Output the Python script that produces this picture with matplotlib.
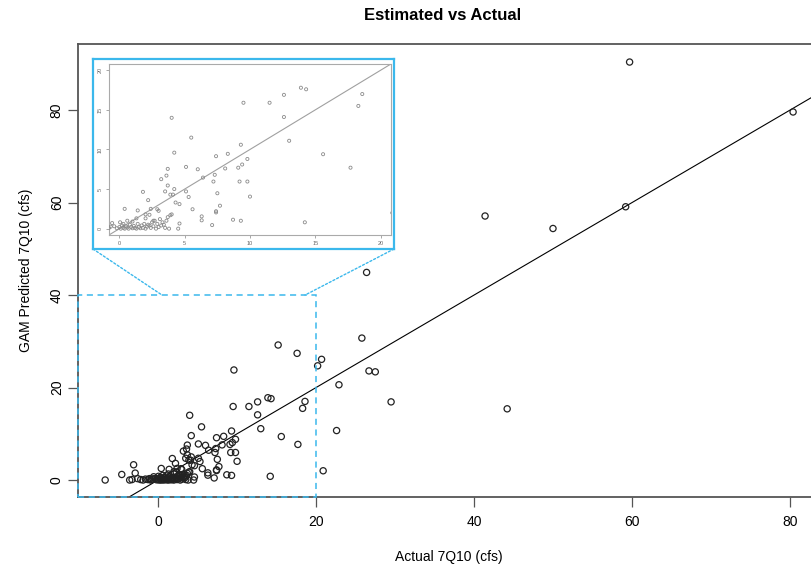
import matplotlib
matplotlib.use("Agg")
import matplotlib.pyplot as plt
from matplotlib.patches import Rectangle, ConnectionPatch
import numpy as np

plt.rcParams['font.family'] = ['Liberation Sans', 'DejaVu Sans']

# Actual vs GAM-predicted 7Q10 low flows (cfs), grouped by size
upper_actual = [59.7, 80.4, 59.2, 50.0, 41.4, 26.4, 25.8, 20.7, 20.2, 15.2,
                17.6, 9.6, 22.9, 26.7, 27.5, 29.5, 44.2, 22.6, 20.9]
upper_pred = [90.4, 79.6, 59.1, 54.4, 57.1, 44.9, 30.7, 26.1, 24.7, 29.2,
              27.4, 23.8, 20.6, 23.6, 23.4, 16.9, 15.4, 10.7, 2.0]

mid_actual = [13.9, 14.3, 12.6, 18.6, 18.3, 9.5, 11.5, 12.6, 13.0, 9.3,
              7.4, 8.3, 15.6, 17.7, 9.8, 9.4, 9.1, 8.1, 7.3, 7.2,
              9.2, 9.8, 6.4, 7.5, 10.0, 7.7, 7.4, 7.4, 6.3, 6.3,
              7.1, 8.7, 9.3, 14.2]
mid_pred = [17.8, 17.6, 16.9, 17.0, 15.5, 15.9, 15.9, 14.1, 11.1, 10.6,
            9.15, 9.45, 9.4, 7.7, 8.8, 8.1, 7.7, 7.6, 6.8, 5.95,
            5.95, 5.95, 6.45, 4.47, 4.05, 2.9, 2.2, 2.05, 1.55, 1.05,
            0.45, 1.13, 1.0, 0.8]

low_actual = [4.0, 5.5, 4.2, 5.1, 6.0, 3.7, 3.6, 3.2, 3.7, 1.8,
              3.5, 4.2, 5.1, 3.9, 4.1, 5.3, 2.2, 4.3, 4.6, 0.4,
              1.4, 2.4, 2.9, 3.0, 2.0, 2.3, 5.6, 3.7, 3.9, 4.0,
              2.6, 2.7, 3.6, 4.6, 4.5, 3.8]
low_pred = [14.0, 11.5, 9.6, 7.8, 7.5, 7.55, 6.7, 6.25, 5.45, 4.65,
            4.7, 5.0, 4.7, 4.3, 4.3, 4.0, 3.6, 3.3, 3.1, 2.5,
            2.3, 2.5, 2.45, 2.25, 1.8, 1.75, 2.45, 1.45, 1.7, 1.8,
            1.0, 1.0, 1.0, 0.65, 0.0, 0.0]

zero_actual = [-6.7, -4.6, -3.6, -3.3, -3.1, -2.9, -2.6, -2.2, -1.9, -1.6,
               -1.3, -1.1, -0.95, -0.8, -0.67, -0.56, -0.4, -0.2, 0.0, 0.05,
               0.1, 0.2, 0.3, 0.3, 0.4, 0.5, 0.6, 0.6, 0.7, 0.8,
               0.9, 1.0, 1.0, 1.1, 1.2, 1.3, 1.3, 1.4, 1.5, 1.6,
               1.7, 1.8, 1.9, 2.0, 2.0, 2.1, 2.2, 2.3, 2.4, 2.5,
               2.6, 2.8, 2.9, 3.0, 3.1, 3.2, 3.3, 3.4, 3.5]
zero_pred = [0.0, 1.2, 0.0, 0.1, 3.3, 1.5, 0.3, 0.1, 0.0, 0.2,
             0.1, 0.3, 0.0, 0.1, 0.25, 0.7, 0.3, 0.05, 0.2, 0.8,
             0.0, 0.4, 0.1, 0.6, 0.0, 0.3, 0.15, 1.0, 0.0, 0.5,
             0.2, 0.05, 0.9, 0.35, 0.1, 0.0, 1.3, 0.6, 0.2, 0.05,
             0.4, 0.1, 0.6, 0.0, 1.3, 0.25, 0.5, 0.4, 0.1, 0.8,
             0.3, 0.0, 0.6, 0.2, 1.2, 0.4, 0.8, 0.5, 0.1]

ticks = [0, 20, 40, 60, 80]
inset_ticks = [0, 5, 10, 15, 20]

actual = np.array(upper_actual + mid_actual + low_actual + zero_actual)
pred = np.array(upper_pred + mid_pred + low_pred + zero_pred)

blue = '#3bb8ec'
frame_col = '#555555'

fig = plt.figure(figsize=(8.11, 5.65), dpi=100)

# main scatter, R-style axes (extends past the right edge of the figure)
ax = fig.add_axes([0.0958, 0.1207, 0.9162, 0.8014])
ax.scatter(actual, pred, s=20, facecolors='none', edgecolors='#222222', linewidths=0.9, zorder=3)
ax.axline((0, 0), slope=1, color='black', lw=0.8, zorder=2)
xlim = (-10.18, 83.9)
ylim = (-3.63, 94.3)
ax.set_xlim(xlim)
ax.set_ylim(ylim)
ax.set_xticks(ticks)
ax.set_yticks(ticks)
ax.set_yticklabels([str(t) for t in ticks], rotation=90, va='center')
ax.tick_params(direction='out', length=7, width=0.9, color=frame_col, labelsize=10)
ax.tick_params(axis='x', pad=6)
ax.tick_params(axis='y', pad=3)
for side in ['left', 'top', 'bottom', 'right']:
    ax.spines[side].set_color(frame_col)
    ax.spines[side].set_linewidth(1.3)
ax.set_xlabel('Actual 7Q10 (cfs)', fontsize=10, labelpad=15)
ax.set_ylabel('GAM Predicted 7Q10 (cfs)', fontsize=10, labelpad=12)

fig.text(443 / 811, 1 - 16 / 565, 'Estimated vs Actual', fontsize=12, fontweight='bold',
         ha='center', va='center')

# zoom region outline
ax.add_patch(Rectangle((xlim[0], ylim[0]), 20 - xlim[0], 40 - ylim[0], fill=False,
                       ec=blue, lw=1.1, ls=(0, (4, 3)), clip_on=False, zorder=5))

# inset frame
frame = fig.add_axes([0.1147, 0.5593, 0.3711, 0.3363])
frame.set_xticks([])
frame.set_yticks([])
frame.set_facecolor('white')
for s in frame.spines.values():
    s.set_color(blue)
    s.set_linewidth(1.6)

# zoomed view of 0-20 cfs
ins = fig.add_axes([0.1344, 0.5841, 0.3477, 0.3027])
ins.scatter(actual, pred, s=5, facecolors='none', edgecolors='#8a8a8a', linewidths=0.6, zorder=3)
ins.axline((0, 0), slope=1, color='#a0a0a0', lw=0.8)
ins.set_xlim(-0.8, 20.8)
ins.set_ylim(-0.8, 20.8)
ins.set_xticks(inset_ticks)
ins.set_yticks(inset_ticks)
ins.set_yticklabels([str(t) for t in inset_ticks], rotation=90, va='center')
ins.tick_params(direction='out', length=2.5, width=0.6, color='#999999', labelsize=4,
                labelcolor='#666666', pad=2)
for s in ins.spines.values():
    s.set_color('#aaaaaa')
    s.set_linewidth(0.8)

# dotted connectors from the inset to the zoom region
for corner, target in [((0, 0), (0.5, 40)), ((1, 0), (18.6, 40))]:
    con = ConnectionPatch(xyA=corner, coordsA=frame.transAxes, xyB=target, coordsB=ax.transData,
                          color=blue, lw=1.0, ls=(0, (1.5, 1.5)))
    fig.add_artist(con)

fig.savefig('out.png', dpi=100)
